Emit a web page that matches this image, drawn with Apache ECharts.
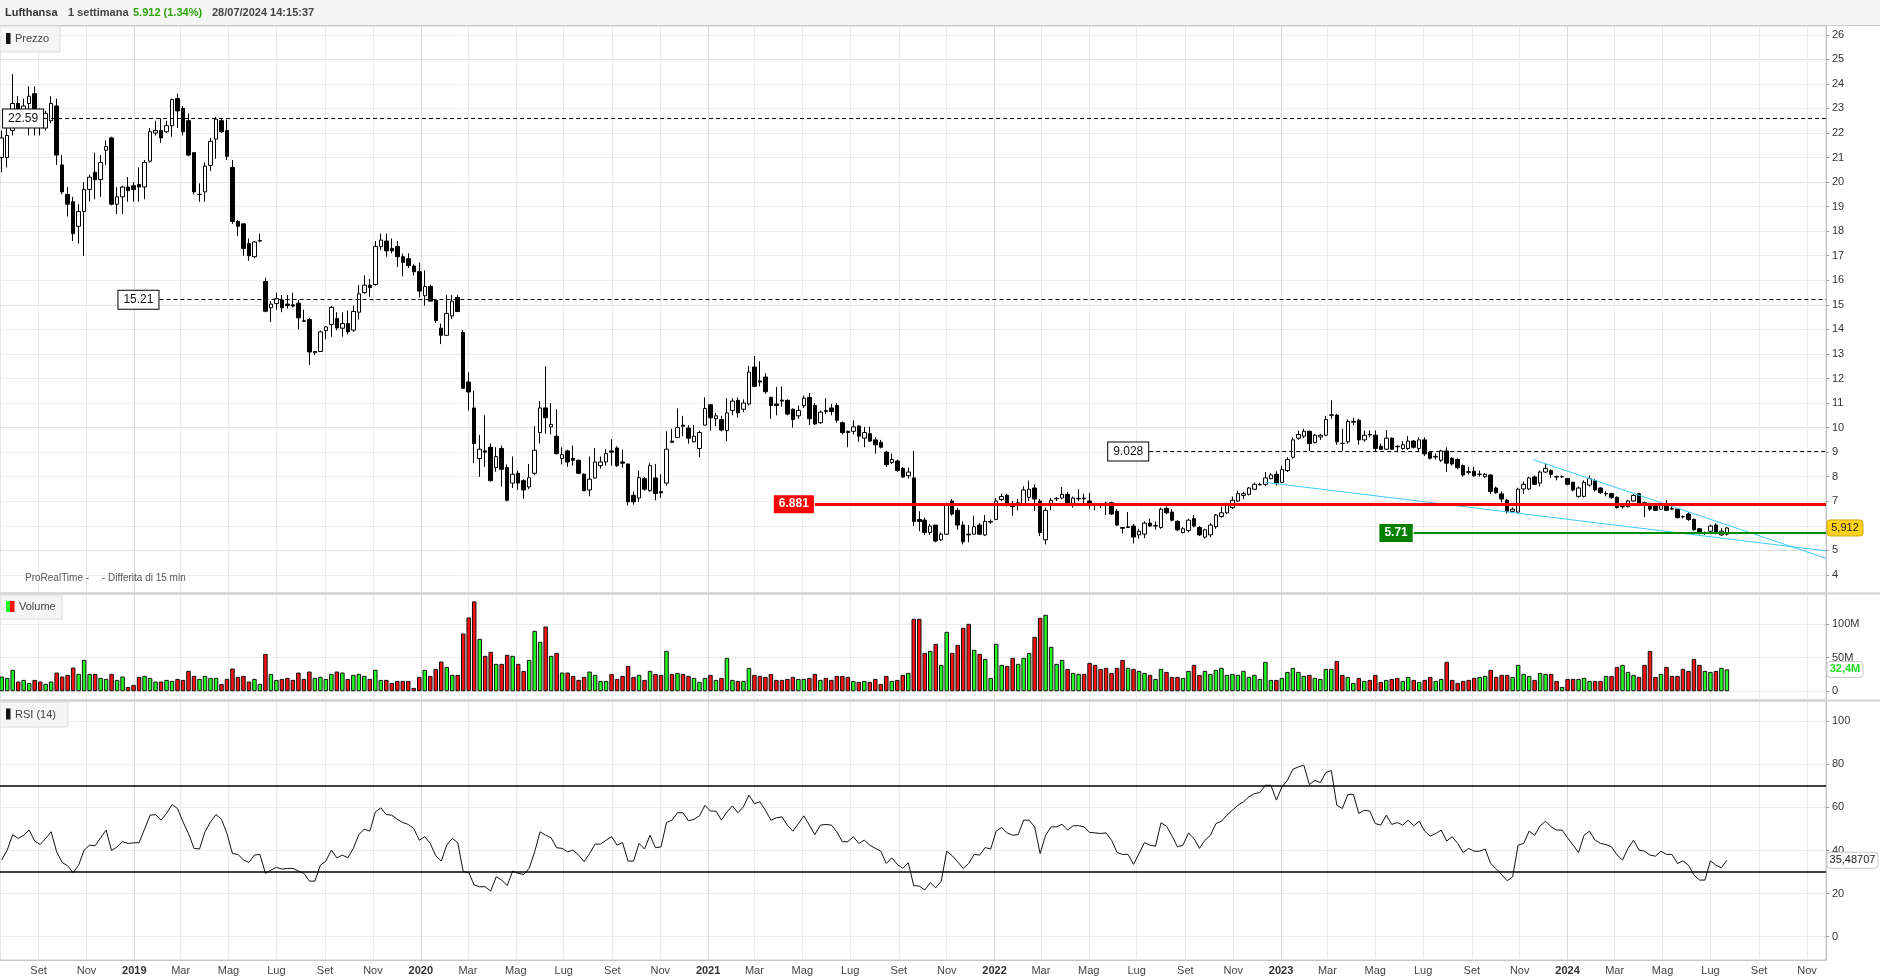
<!DOCTYPE html>
<html><head><meta charset="utf-8">
<script src="https://cdn.jsdelivr.net/npm/echarts@6/dist/echarts.min.js"></script>
<style>html,body{margin:0;padding:0;background:#fff;}#c{width:1880px;height:979px;}</style>
</head><body><div id="c"></div>
<script>
// ---------- DATA (weekly, Lufthansa) ----------
const FIRST_WEEK = '2018-07-16';
const opens = [21.0,21.0,22.1,23.2,22.9,23.2,23.6,22.8,22.2,22.5,
 23.1,20.7,19.5,19.2,18.2,18.8,19.7,20.4,20.1,21.3,
 21.8,19.1,19.4,19.8,19.85,19.9,19.8,20.85,22.0,22.1,
 22.05,22.3,23.4,23.0,22.5,21.2,19.5,19.6,20.68,21.75,
 22.5,22.1,20.6,18.4,18.3,17.5,16.96,17.6,15.95,14.88,
 15.05,15.2,15.03,15.0,15.07,14.35,14.4,13.05,13.1,13.95,
 14.2,14.44,14.05,14.24,13.97,14.7,15.5,15.8,15.83,17.37,
 17.6,17.3,17.38,16.96,16.88,16.58,16.35,15.37,15.75,15.18,
 14.05,13.76,14.55,15.3,13.87,11.86,10.8,8.74,9.05,9.2,
 8.37,9.15,8.37,7.74,8.14,7.84,7.58,8.14,9.8,10.8,
 10.03,9.65,8.74,9.05,8.75,8.67,8.1,7.46,7.95,8.45,
 8.6,9.05,9.17,8.6,8.52,7.24,7.13,7.92,7.43,7.95,
 7.39,7.74,9.45,9.6,10.1,9.98,9.42,9.15,10.1,10.93,
 10.36,10.33,9.88,10.7,11.11,10.75,10.96,12.47,11.9,12.06,
 11.23,10.96,11.12,11.11,10.75,10.48,10.9,11.23,10.9,10.2,
 10.7,10.8,10.9,10.2,9.85,9.85,10.06,9.57,9.75,9.5,
 9.4,9.0,8.58,8.64,8.34,8.04,7.95,6.26,6.23,5.73,
 6.03,5.43,5.66,7.01,6.63,6.03,5.66,5.66,6.03,5.63,
 6.15,6.26,7.07,7.24,6.89,6.83,6.89,7.16,7.54,7.01,
 5.43,6.83,7.1,7.13,7.28,6.86,7.1,7.13,7.01,6.86,
 6.88,6.92,6.94,6.59,5.93,5.93,5.99,5.63,5.66,6.11,
 5.99,5.93,6.71,6.56,6.18,5.73,5.81,6.29,5.93,5.54,
 5.63,5.96,6.38,6.53,6.74,7.01,7.24,7.28,7.49,7.67,
 7.69,7.92,8.1,7.77,8.25,8.79,9.57,9.65,9.85,9.39,
 9.62,9.69,10.5,10.51,9.36,9.42,10.22,10.3,9.5,9.72,
 9.69,9.24,9.12,9.57,9.24,9.15,9.15,9.45,9.15,9.5,
 9.0,8.8,8.67,9.05,8.75,8.7,8.45,8.2,8.22,8.1,
 8.0,8.07,7.54,7.3,7.04,6.59,6.56,7.5,7.5,7.99,
 7.74,8.19,8.25,8.0,8.0,7.92,7.77,7.2,7.2,7.66,
 7.84,7.54,7.3,7.31,7.16,6.78,6.78,7.01,7.31,6.94,
 6.83,6.83,6.68,6.86,6.7,6.68,6.38,6.48,6.26,5.88,
 5.73,5.78,6.03,5.63,5.66];
const highs = [22.1,22.2,24.4,23.5,23.4,23.9,23.9,23.0,22.9,23.5,
 23.4,21.1,19.8,19.4,19.1,20.0,20.3,21.2,21.1,21.7,
 21.85,19.8,19.85,20.2,20.0,20.6,20.9,22.2,22.5,22.6,
 22.5,23.4,23.6,23.1,22.8,21.2,19.95,20.8,21.8,22.65,
 22.6,22.55,20.9,18.45,18.3,17.7,17.6,17.9,16.1,15.15,
 15.5,15.4,15.4,15.5,15.2,14.8,14.47,13.1,13.95,14.12,
 14.95,14.7,14.7,14.77,14.97,15.8,16.2,16.05,17.6,17.9,
 17.9,17.7,17.6,17.08,17.1,16.65,16.73,16.4,15.83,15.2,
 14.24,15.4,15.4,15.4,13.97,12.25,11.5,9.7,10.5,9.35,
 9.2,9.27,8.5,8.82,8.25,7.9,8.52,10.06,11.08,12.5,
 11.0,10.75,9.2,9.1,9.27,8.7,8.14,8.82,9.17,8.82,
 9.12,9.53,9.24,9.1,8.52,7.4,8.25,7.99,8.55,8.52,
 8.1,9.85,9.95,10.78,10.48,10.1,10.1,9.88,11.23,10.96,
 10.6,10.48,11.2,11.2,11.23,11.15,12.51,12.92,12.7,12.21,
 11.26,11.65,11.68,11.15,10.78,10.9,11.3,11.41,11.0,10.7,
 11.2,10.96,11.0,10.25,9.88,10.3,10.1,10.03,10.03,9.6,
 9.5,9.05,8.94,8.7,8.4,8.37,9.05,6.59,6.33,6.08,
 6.03,5.73,6.94,7.09,6.74,6.18,6.03,6.41,6.11,6.44,
 6.26,7.13,7.31,7.31,7.01,7.09,7.61,7.84,7.69,7.09,
 6.74,7.13,7.16,7.58,7.39,7.19,7.49,7.31,7.34,6.94,
 6.94,6.98,6.98,6.68,5.93,6.56,6.08,5.88,6.18,6.29,
 6.18,6.74,6.78,6.68,6.23,5.96,6.29,6.44,5.99,5.88,
 6.11,6.48,6.78,6.94,7.19,7.43,7.39,7.58,7.76,7.76,
 8.19,8.14,8.22,8.45,8.79,9.6,9.88,9.95,9.88,9.75,
 9.75,10.48,11.11,10.55,9.95,10.33,10.4,10.36,9.88,9.88,
 9.88,9.35,9.9,9.6,9.27,9.45,9.65,9.5,9.6,9.6,
 9.05,8.95,9.1,9.2,8.8,8.75,8.5,8.4,8.4,8.25,
 8.15,8.1,7.6,7.4,7.1,6.75,7.55,7.8,8.0,8.05,
 8.25,8.55,8.3,8.05,8.05,7.95,7.8,7.6,7.85,8.05,
 7.9,7.56,7.4,7.35,7.2,6.85,7.05,7.3,7.34,6.98,
 6.88,6.88,6.95,7.05,6.83,6.7,6.42,6.55,6.3,5.9,
 5.76,6.05,6.1,5.9,5.95];
const lows = [20.4,20.6,21.9,22.4,22.5,21.9,21.9,21.9,22.1,22.4,
 20.7,19.5,18.6,17.6,17.5,17.0,19.2,19.3,19.4,20.7,
 19.05,18.7,18.7,19.2,19.2,19.2,19.3,20.8,21.9,21.6,
 22.0,21.85,22.2,21.9,21.05,19.5,19.2,19.2,20.45,20.95,
 22.0,20.9,18.3,17.8,17.0,16.8,16.9,17.55,14.7,14.3,
 14.8,14.7,14.85,14.9,14.0,14.3,12.55,12.95,13.08,13.6,
 13.7,13.97,13.7,13.8,13.9,14.4,15.45,15.33,15.78,17.23,
 16.96,17.1,16.54,16.16,16.5,16.2,15.3,14.97,15.15,14.27,
 13.4,13.76,14.43,14.7,11.6,10.7,8.55,8.0,8.4,7.8,
 8.2,7.6,7.0,7.54,7.46,7.1,7.5,8.06,9.35,9.75,
 9.72,8.9,8.5,8.4,8.45,8.1,7.43,7.2,7.92,8.33,
 8.45,8.45,8.4,8.37,6.83,6.86,6.98,7.43,7.39,7.04,
 7.13,7.64,9.38,9.57,9.65,9.35,9.4,8.79,10.1,9.88,
 10.06,9.85,9.45,10.5,10.4,10.63,10.9,11.65,11.68,11.38,
 10.36,10.5,10.85,10.5,10.0,10.36,10.8,10.1,10.1,10.15,
 10.55,10.5,10.2,9.72,9.2,9.72,9.42,9.2,9.42,8.94,
 9.15,8.4,8.52,8.2,7.95,7.92,5.99,5.78,5.63,5.63,
 5.33,5.38,5.63,6.41,5.84,5.24,5.33,5.63,5.63,5.58,
 6.08,6.23,7.01,6.78,6.41,6.63,6.83,7.01,6.6,5.58,
 5.24,6.63,7.01,7.09,6.86,6.74,7.01,6.86,6.68,6.63,
 6.71,6.44,6.44,5.99,5.69,5.93,5.28,5.48,5.5,5.96,
 5.84,5.88,6.48,6.18,5.78,5.69,5.73,5.93,5.58,5.48,
 5.54,5.88,6.33,6.48,6.68,6.98,7.09,7.24,7.46,7.64,
 7.61,7.89,7.64,7.74,8.19,8.74,9.5,9.57,9.05,9.35,
 9.5,9.65,10.36,9.3,9.05,9.35,10.1,9.3,9.42,9.6,
 9.05,9.09,9.09,9.09,8.99,9.1,9.1,9.15,9.05,8.85,
 8.7,8.7,8.6,8.2,8.45,8.3,8.0,8.1,8.0,8.0,
 7.95,7.3,7.3,6.95,6.5,6.55,6.5,7.3,7.45,7.65,
 7.6,8.15,7.95,7.85,7.95,7.65,7.4,7.15,7.15,7.6,
 7.4,7.3,7.2,7.1,6.7,6.7,6.75,6.98,6.8,6.35,
 6.6,6.6,6.65,6.6,6.65,6.3,6.3,6.2,5.8,5.65,
 5.63,5.75,5.65,5.58,5.6];
const closes = [21.8,21.9,23.2,22.9,23.1,23.5,23.0,22.3,22.8,23.2,
 21.1,19.6,19.1,17.9,18.8,19.7,20.2,20.1,20.8,21.45,
 19.1,19.4,19.8,19.65,19.7,19.8,20.8,22.05,22.1,21.8,
 22.3,23.36,22.9,22.05,21.1,19.6,19.5,20.65,21.66,22.56,
 22.05,21.05,18.4,18.2,17.3,17.0,17.56,17.62,14.74,15.03,
 15.25,14.88,14.97,14.95,14.47,14.33,13.08,13.1,13.9,14.1,
 14.9,14.06,14.24,13.9,14.73,15.45,15.8,15.7,17.38,17.64,
 17.2,17.2,16.96,16.73,16.6,16.35,15.56,15.75,15.15,14.36,
 13.76,14.65,15.15,14.73,11.6,11.45,9.35,9.12,9.0,7.84,
 8.82,8.3,7.04,8.1,7.74,7.46,7.96,9.08,10.8,10.4,
 10.13,8.94,8.9,8.6,8.67,8.14,7.43,7.9,8.6,8.6,
 8.94,9.0,8.45,8.55,6.98,6.98,7.96,7.49,8.45,7.32,
 7.34,9.12,9.4,10.0,10.06,9.57,9.65,9.8,10.78,10.4,
 10.48,9.9,10.6,11.08,10.6,11.0,12.26,11.68,11.86,11.46,
 10.9,10.9,11.08,10.55,10.33,10.7,11.2,10.36,10.15,10.63,
 10.66,10.66,10.3,9.8,9.8,10.03,9.65,9.8,9.45,9.3,
 9.2,8.49,8.7,8.25,7.99,8.19,6.18,6.18,5.73,5.99,
 5.38,5.66,6.89,6.48,6.03,5.35,5.63,5.96,5.66,6.18,
 6.18,7.01,7.19,6.83,6.78,6.94,7.46,7.49,7.09,5.73,
 6.63,7.04,7.12,7.28,6.89,7.13,7.12,7.1,6.83,6.83,
 6.86,6.86,6.48,6.03,5.9,5.96,5.54,5.78,6.11,5.99,
 6.01,6.68,6.53,6.23,5.84,5.88,6.23,5.99,5.63,5.84,
 6.03,6.44,6.53,6.83,7.04,7.31,7.31,7.54,7.69,7.69,
 7.95,8.07,7.74,8.29,8.7,9.5,9.72,9.85,9.35,9.69,
 9.69,10.33,10.52,9.42,9.35,10.25,10.25,9.5,9.69,9.7,
 9.15,9.12,9.57,9.12,9.22,9.3,9.45,9.2,9.5,8.93,
 8.75,8.83,9.05,8.55,8.52,8.37,8.07,8.18,8.04,8.1,
 8.1,7.4,7.35,7.09,6.59,6.68,7.49,7.69,7.95,7.69,
 8.19,8.34,8.1,7.99,8.0,7.69,7.46,7.54,7.77,7.92,
 7.46,7.35,7.31,7.16,6.74,6.78,7.01,7.24,6.86,6.83,
 6.68,6.63,6.86,6.63,6.68,6.33,6.37,6.26,5.84,5.69,
 5.73,5.99,5.73,5.78,5.912];
// volume in millions of shares
const volumes = [21.8,19.8,31.7,14.4,16.8,12.4,16.8,14.4,10.9,14.4,
 27.7,21.8,24.3,35.1,25.7,46.5,25.7,25.7,19.8,18.3,
 25.7,16.8,21.8,6.4,9.4,21.3,22.8,19.8,14.4,14.4,
 16.8,15.3,18.3,16.8,30.2,22.8,18.3,22.8,19.8,19.8,
 10.9,18.3,33.7,21.3,22.8,14.4,18.3,10.9,55.4,25.7,
 16.8,18.3,19.8,16.8,27.7,18.3,29.2,19.8,21.3,18.3,
 25.7,29.2,27.7,18.3,24.3,25.7,22.8,18.3,31.7,16.8,
 16.8,12.4,15.3,15.3,15.3,5.0,21.3,31.7,22.8,33.2,
 44.1,36.1,24.3,24.3,85.6,109.4,133.2,77.7,52.5,58.4,
 40.6,40.6,54.0,52.5,40.6,30.2,46.5,89.6,73.3,96.0,
 52.5,56.9,27.7,27.7,22.8,16.8,21.3,29.2,24.3,15.3,
 15.3,25.7,18.3,22.8,37.6,21.3,24.3,16.8,30.2,25.7,
 24.3,59.9,25.7,27.2,25.7,22.8,19.8,13.9,19.8,24.3,
 16.8,19.8,49.5,16.8,15.3,15.3,34.7,24.3,22.8,21.3,
 25.7,16.8,16.8,18.3,21.3,18.3,18.3,19.8,25.7,16.8,
 19.8,16.8,22.8,22.8,21.3,15.3,13.9,15.3,13.9,18.3,
 10.9,22.8,15.3,16.8,24.3,27.2,107.4,107.4,56.9,59.9,
 70.3,39.1,88.1,56.9,68.8,94.1,100.0,61.4,55.4,48.0,
 19.8,70.3,39.1,37.6,49.5,40.6,49.5,56.9,80.7,108.9,
 113.4,65.8,40.6,46.5,33.2,27.2,25.7,25.7,42.1,39.1,
 33.2,34.7,27.2,34.7,46.5,34.7,33.2,30.2,27.2,24.3,
 18.3,33.2,28.7,21.3,21.3,19.8,30.2,39.1,24.3,30.2,
 25.7,31.7,34.7,24.3,25.7,24.3,30.2,21.3,24.3,18.3,
 43.6,16.8,16.8,19.8,28.7,34.7,28.7,22.8,24.3,19.8,
 18.3,33.2,33.2,45.0,24.3,21.3,12.4,19.8,15.3,16.8,
 24.3,13.9,16.8,18.3,19.8,15.3,21.3,16.8,13.9,16.8,
 21.3,15.3,18.3,43.6,16.8,12.4,15.3,16.8,19.8,21.3,
 22.8,31.7,21.3,24.3,24.3,21.3,39.1,25.7,22.8,16.8,
 27.2,25.7,25.7,15.3,6.4,18.3,18.3,18.3,19.8,15.3,
 15.3,15.3,22.8,22.8,36.1,39.1,28.7,24.3,21.3,39.1,
 59.9,21.3,25.7,36.1,22.8,22.8,33.2,30.2,48.0,39.1,
 30.2,28.7,30.2,34.7,32.4];
const rsi = [35.6,40.2,47.4,45.6,47.1,49.5,44.4,42.8,45.6,48.7,
 39.4,34.5,32.9,29.7,33.2,40.2,42.5,42.2,45.9,49.5,
 40.0,41.7,44.1,43.3,43.6,43.6,49.9,56.4,56.7,54.1,
 57.2,61.3,59.5,53.3,47.9,41.0,40.7,48.7,53.3,56.7,
 54.5,47.9,38.6,38.2,35.6,34.5,37.9,38.2,29.4,30.9,
 32.2,31.4,31.7,31.7,30.5,29.4,25.8,25.8,33.2,35.1,
 40.2,36.6,37.9,36.6,41.0,47.4,49.9,49.0,57.9,59.8,
 56.7,56.4,54.5,53.0,52.1,50.2,44.8,46.4,43.3,37.6,
 35.1,42.5,45.6,43.7,30.2,29.8,24.0,23.2,23.2,21.2,
 27.8,26.3,23.7,30.5,29.4,28.9,31.7,39.4,48.7,47.1,
 45.9,41.3,41.0,39.4,40.2,37.9,34.8,38.6,43.0,43.0,
 44.8,46.4,42.5,43.7,35.1,35.1,43.3,40.7,47.1,41.3,
 41.7,53.0,54.1,57.6,57.5,53.8,54.5,56.1,61.0,58.3,
 58.3,54.1,57.9,60.7,57.5,60.3,65.7,61.8,62.6,58.7,
 54.1,55.2,55.6,51.8,49.0,52.5,56.1,51.8,47.4,51.8,
 52.1,51.8,48.7,44.1,44.1,46.4,43.3,44.8,42.5,41.0,
 39.7,34.0,36.6,33.6,31.7,34.3,23.7,23.5,21.7,25.1,
 22.7,25.8,39.7,37.6,34.8,31.7,34.0,38.2,37.9,41.4,
 40.7,49.0,50.7,48.2,47.1,47.4,54.1,54.1,51.0,38.6,
 47.1,51.0,51.0,52.2,49.5,51.5,51.5,51.0,48.4,48.2,
 47.9,48.2,44.8,39.1,38.2,38.2,33.6,38.6,43.7,42.5,
 42.0,52.9,51.3,46.8,41.7,42.5,48.1,45.6,41.0,44.8,
 47.1,52.5,53.6,56.4,58.7,61.0,62.6,64.9,66.4,66.9,
 70.3,70.3,63.4,69.5,72.6,77.7,78.8,79.6,70.6,72.6,
 71.5,76.2,77.1,61.0,59.5,66.0,66.1,57.2,58.7,58.3,
 52.5,51.8,56.4,52.1,53.0,51.8,54.1,51.5,53.6,49.0,
 46.7,47.9,49.5,44.4,46.4,43.3,39.1,41.0,39.7,39.7,
 40.7,34.0,31.5,28.8,26.0,27.8,42.5,43.3,49.0,47.1,
 51.5,53.6,51.0,49.5,49.5,45.9,42.5,39.1,47.1,49.0,
 44.8,43.3,42.8,41.7,38.0,35.6,41.0,44.8,40.2,39.7,
 37.9,37.4,39.7,38.2,38.2,34.0,35.2,33.2,28.6,26.3,
 26.3,35.2,33.2,32.0,35.48707];
const priceTicks = [4,5,6,7,8,9,10,11,12,13,14,15,16,17,18,19,20,21,22,23,24,25,26];
const volumeTicks = [0, 50, 100];
const rsiTicks = [0, 20, 40, 60, 80, 100];
const monthTicks = ['2018-09-01','2018-11-01','2019-01-01','2019-03-01','2019-05-01','2019-07-01','2019-09-01','2019-11-01',
 '2020-01-01','2020-03-01','2020-05-01','2020-07-01','2020-09-01','2020-11-01','2021-01-01','2021-03-01','2021-05-01',
 '2021-07-01','2021-09-01','2021-11-01','2022-01-01','2022-03-01','2022-05-01','2022-07-01','2022-09-01','2022-11-01',
 '2023-01-01','2023-03-01','2023-05-01','2023-07-01','2023-09-01','2023-11-01','2024-01-01','2024-03-01','2024-05-01',
 '2024-07-01','2024-09-01','2024-11-01'];
const monthNames = ['Gen','Feb','Mar','Apr','Mag','Giu','Lug','Ago','Set','Ott','Nov','Dic'];
// horizontal levels drawn on the price panel
const levels = [
 {value: 22.59, from: '2018-09-08', kind: 'dash'},
 {value: 15.21, from: '2019-02-02', kind: 'dash'},
 {value: 9.028, from: '2022-07-17', kind: 'dash'},
 {value: 6.881, from: '2021-05-17', kind: 'red'},
 {value: 5.71, from: '2023-06-19', kind: 'green'}
];
const trendLines = [
 [['2022-12-12', 7.77], ['2024-11-25', 4.98]],
 [['2023-11-18', 8.70], ['2024-11-25', 4.68]]
];

// ---------- CHART ----------
const FONT = '"Liberation Sans", Arial, sans-serif';
function ts(s) { const p = s.split('-').map(Number); return new Date(p[0], p[1] - 1, p[2]).getTime(); }
const w0 = FIRST_WEEK.split('-').map(Number);
const dates = closes.map((_, i) => new Date(w0[0], w0[1] - 1, w0[2] + 7 * i).getTime());
const X_MIN = new Date(2018, 6, 13, 20, 0).getTime();
const X_MAX = new Date(2024, 10, 25, 5, 36).getTime();
const tickTs = monthTicks.map(ts);
const UP_V = '#22ff22', DN_V = '#ff1010';

function xAxisFor(gi, labels) {
  return {
    type: 'value', gridIndex: gi, min: X_MIN, max: X_MAX, scale: true,
    axisLine: {show: labels, onZero: false, lineStyle: {color: '#c4c4c4'}},
    axisTick: {show: false, customValues: tickTs},
    axisLabel: {
      show: labels, customValues: tickTs, color: '#444', fontSize: 11, fontFamily: FONT, margin: 5,
      formatter: function (v) { const d = new Date(v); return d.getMonth() === 0 ? '{y|' + d.getFullYear() + '}' : monthNames[d.getMonth()]; },
      rich: {y: {fontWeight: 'bold', fontSize: 11, color: '#333', fontFamily: FONT}}
    },
    splitLine: {show: true, lineStyle: {color: ['#ebebeb', '#ebebeb', '#dadada', '#ebebeb', '#ebebeb', '#ebebeb'], width: 1}}
  };
}
function yAxisFor(gi, min, max, ticks, fmt, splitColors) {
  return {
    type: 'value', gridIndex: gi, position: 'right', min: min, max: max, scale: true,
    axisLine: {show: true, onZero: false, lineStyle: {color: '#c4c4c4'}},
    axisTick: {show: true, customValues: ticks, length: 3, lineStyle: {color: '#999'}},
    axisLabel: {customValues: ticks, color: '#333', fontSize: 11, fontFamily: FONT, margin: 6, formatter: fmt},
    splitLine: {show: true, lineStyle: {color: splitColors, width: 1}}
  };
}

const levelLines = levels.map(function (l) {
  let ls, lab;
  if (l.kind === 'dash') {
    ls = {color: '#000', width: 1, type: [4, 3]};
    lab = {backgroundColor: '#fff', borderColor: '#000', borderWidth: 1, color: '#111'};
  } else if (l.kind === 'red') {
    ls = {color: '#f20000', width: 3, type: 'solid'};
    lab = {backgroundColor: '#ff0000', color: '#fff', fontWeight: 'bold'};
  } else {
    ls = {color: '#008a00', width: 2, type: 'solid'};
    lab = {backgroundColor: '#008000', color: '#fff', fontWeight: 'bold'};
  }
  return [{
    coord: [ts(l.from), l.value], lineStyle: ls,
    label: Object.assign({show: true, position: 'start', distance: 1, formatter: String(l.value), fontSize: 12, fontFamily: FONT, padding: [3, 5, 3, 5]}, lab)
  }, {coord: [X_MAX, l.value]}];
});
const trendMarks = trendLines.map(t => [
  {coord: [ts(t[0][0]), t[0][1]], lineStyle: {color: '#3ccaf7', width: 1, type: 'solid'}, label: {show: false}},
  {coord: [ts(t[1][0]), t[1][1]]}
]);

const chart = echarts.init(document.getElementById('c'), null, {renderer: 'canvas'});
const option = {
  animation: false,
  backgroundColor: '#fff',
  textStyle: {fontFamily: FONT},
  grid: [
    {left: 0, right: 54, top: 26, height: 567, show: true, borderColor: '#cccccc', borderWidth: 1, outerBoundsMode: 'none'},
    {left: 0, right: 54, top: 594, height: 106, show: true, borderColor: '#cccccc', borderWidth: 1, outerBoundsMode: 'none'},
    {left: 0, right: 54, top: 701, height: 259, show: true, borderColor: '#cccccc', borderWidth: 1, outerBoundsMode: 'none'}
  ],
  xAxis: [xAxisFor(0, false), xAxisFor(1, false), xAxisFor(2, true)],
  yAxis: [
    yAxisFor(0, 3.263, 26.358, priceTicks, v => String(v), ['#ededed', '#e0e0e0', '#ededed', '#ededed', '#ededed']),
    yAxisFor(1, -13.0, 144.2, volumeTicks, v => v === 0 ? '0' : v + 'M', ['#ebebeb']),
    yAxisFor(2, -10.8, 109.4, rsiTicks, v => String(v), ['#ebebeb'])
  ],
  series: [
    {
      type: 'candlestick', xAxisIndex: 0, yAxisIndex: 0, barWidth: 4,
      encode: {x: 0, y: [1, 2, 3, 4]},
      data: dates.map((d, i) => [d, opens[i], closes[i], lows[i], highs[i]]),
      itemStyle: {color: '#fff', color0: '#000', borderColor: '#000', borderColor0: '#000', borderWidth: 1},
      markLine: {symbol: 'none', silent: true, animation: false, data: trendMarks.concat(levelLines)}
    },
    {
      type: 'bar', xAxisIndex: 1, yAxisIndex: 1, barWidth: 4.5,
      data: dates.map((d, i) => ({value: [d, volumes[i]], itemStyle: {color: closes[i] >= opens[i] ? UP_V : DN_V}})),
      itemStyle: {borderColor: '#111', borderWidth: 1}
    },
    {
      type: 'line', xAxisIndex: 2, yAxisIndex: 2, showSymbol: false, symbol: 'none',
      data: dates.map((d, i) => [d, rsi[i]]),
      lineStyle: {color: '#111', width: 1},
      markLine: {symbol: 'none', silent: true, label: {show: false}, lineStyle: {color: '#000', width: 1.5, type: 'solid'},
        data: [{yAxis: 70}, {yAxis: 30}]}
    }
  ]
};
chart.setOption(option);

// ---------- overlay texts / tags (positioned through the axes) ----------
const last = closes.length - 1;
const axisX = chart.convertToPixel({xAxisIndex: 0}, X_MAX);
const yP = chart.convertToPixel({yAxisIndex: 0}, closes[last]);
const yV = chart.convertToPixel({yAxisIndex: 1}, volumes[last]);
const yR = chart.convertToPixel({yAxisIndex: 2}, rsi[last]);
const ZT = 200;
function tag(y, w, txt, fill, stroke, color, bold) {
  return {type: 'group', x: axisX + 1, y: y - 8, z: ZT, children: [
    {type: 'rect', z: ZT, shape: {x: 0, y: 0, width: w, height: 16, r: 3}, style: {fill: fill, stroke: stroke, lineWidth: 1}},
    {type: 'text', z: ZT + 1, x: w / 2, y: 8, style: {text: txt, fill: color, fontSize: 11, fontFamily: FONT, fontWeight: bold ? 'bold' : 'normal', align: 'center', verticalAlign: 'middle'}}
  ]};
}
function legendBox(x, y, w, h, icons, label) {
  const ch = [{type: 'rect', z: ZT, shape: {x: 0, y: 0, width: w, height: h}, style: {fill: '#f5f5f5', stroke: '#dcdcdc', lineWidth: 1}}];
  icons.forEach((c, k) => ch.push({type: 'rect', z: ZT + 1, shape: {x: 6 + k * 4, y: h / 2 - 6, width: 4.5, height: 11}, style: {fill: c}}));
  ch.push({type: 'text', z: ZT + 1, x: 8 + icons.length * 4 + 3, y: h / 2, style: {text: label, fill: '#444', fontSize: 11, fontFamily: FONT, verticalAlign: 'middle'}});
  return {type: 'group', x: x, y: y, z: ZT, children: ch};
}
const hdr = (x, txt, color) => ({type: 'text', x: x, y: 13, z: ZT + 1, style: {text: txt, fill: color, fontSize: 11, fontWeight: 'bold', fontFamily: FONT, verticalAlign: 'middle'}});
chart.setOption({
  graphic: [
    {type: 'rect', z: ZT, shape: {x: 0, y: 0, width: 1880, height: 25}, style: {fill: '#f5f5f5'}},
    {type: 'line', z: ZT, shape: {x1: 0, y1: 25.5, x2: 1880, y2: 25.5}, style: {stroke: '#c9c9c9', lineWidth: 1}},
    {type: 'line', z: ZT, shape: {x1: 0, y1: 593.5, x2: 1880, y2: 593.5}, style: {stroke: '#d2d2d2', lineWidth: 2}},
    {type: 'line', z: ZT, shape: {x1: 0, y1: 700.5, x2: 1880, y2: 700.5}, style: {stroke: '#d2d2d2', lineWidth: 2}},
    hdr(5, 'Lufthansa', '#333'),
    hdr(68, '1 settimana', '#444'),
    hdr(133, '5.912 (1.34%)', '#2ea60e'),
    hdr(212, '28/07/2024 14:15:37', '#444'),
    legendBox(0, 26, 60, 26, ['#111'], 'Prezzo'),
    legendBox(0, 595, 62, 24, [UP_V, DN_V], 'Volume'),
    legendBox(0, 702, 68, 25, ['#111'], 'RSI (14)'),
    {type: 'text', x: 25, y: 578, z: ZT, style: {text: 'ProRealTime -', fill: '#555', fontSize: 10, fontFamily: FONT, verticalAlign: 'middle'}},
    {type: 'text', x: 102, y: 578, z: ZT, style: {text: '- Differita di 15 min', fill: '#555', fontSize: 10, fontFamily: FONT, verticalAlign: 'middle'}},
    tag(yP, 36, closes[last].toFixed(3).replace('.', ','), '#ffd21a', '#d1a900', '#222', false),
    tag(yV, 36, volumes[last].toFixed(1).replace('.', ',') + 'M', '#fff', '#c8c8c8', '#22dd22', true),
    tag(yR, 51, String(rsi[last]).replace('.', ','), '#fff', '#c8c8c8', '#222', false)
  ]
});
</script></body></html>
